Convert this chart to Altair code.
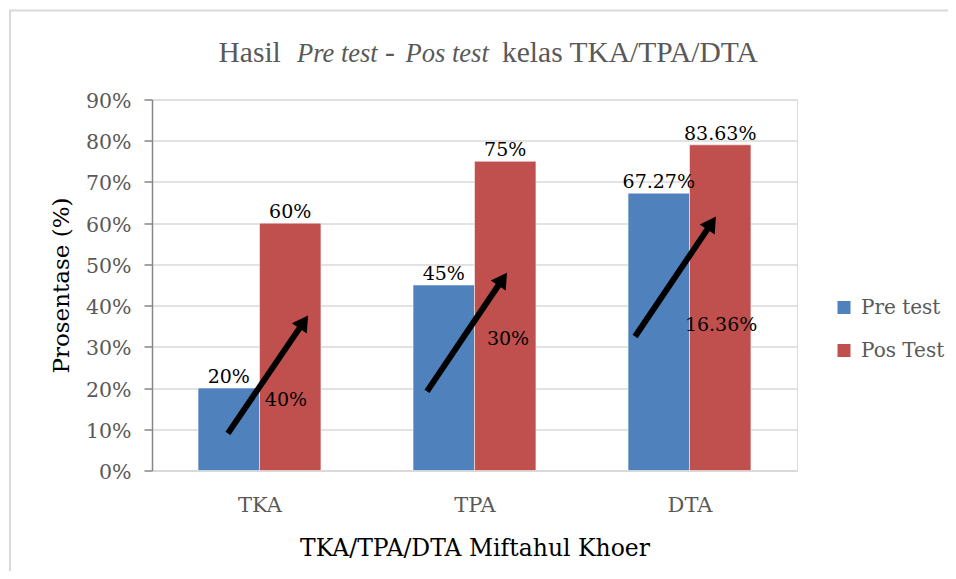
import json
import math
import altair as alt
import pandas as pd

# ---------------- data ----------------
categories = ["TKA", "TPA", "DTA"]
series_names = ["Pre test", "Pos Test"]
series_colors = ["#4F81BD", "#C0504D"]
pre_values = [20, 45, 67.27]
pos_values = [60, 75, 79]          # bar heights as drawn in the picture
pre_labels = ["20%", "45%", "67.27%"]
pos_labels = ["60%", "75%", "83.63%"]
diff_labels = ["40%", "30%", "16.36%"]
y_ticks = [0, 10, 20, 30, 40, 50, 60, 70, 80, 90]

# annotation arrows / difference labels (data units: x = category slot, y = %)
arrow_tail_x = [0.353, 1.279, 2.247]
arrow_tail_y = [9.0, 19.2, 32.5]
arrow_tip_x = [0.726, 1.651, 2.623]
arrow_tip_y = [37.6, 48.0, 61.6]
diff_x = [0.623, 1.656, 2.647]
diff_y = [17.2, 31.8, 35.4]

title_parts = ["Hasil", "Pre test", "-", "Pos test", "kelas TKA/TPA/DTA"]
title_italic = [False, True, False, True, False]
x_title = "TKA/TPA/DTA Miftahul Khoer"
y_title = "Prosentase (%)"

# ---------------- layout ----------------
FONT = "DejaVu Serif"
TFONT = "Liberation Serif"
W, H = 645, 371
XMAX, YMAX = 3, 90
PX_X = W / XMAX
PX_Y = H / YMAX
BAR_W = 1 / 3.5
GAP = 0.75 / 3.5

rows = []
for i, c in enumerate(categories):
    for s, (vals, labs) in enumerate([(pre_values, pre_labels), (pos_values, pos_labels)]):
        x0 = i + GAP + s * BAR_W
        rows.append(dict(cat=c, series=series_names[s], x0=x0, x1=x0 + BAR_W,
                         xc=x0 + BAR_W / 2, value=vals[i], label=labs[i]))
bars_df = pd.DataFrame(rows)

arrows = []
HEAD_W = 18
HEAD_H = HEAD_W * math.sqrt(3) / 2
for i in range(len(categories)):
    dxp = (arrow_tip_x[i] - arrow_tail_x[i]) * PX_X
    dyp = (arrow_tip_y[i] - arrow_tail_y[i]) * PX_Y
    L = math.hypot(dxp, dyp)
    ux, uy = dxp / L, dyp / L
    arrows.append(dict(
        x=arrow_tail_x[i], y=arrow_tail_y[i],
        x2=arrow_tip_x[i] - ux * (HEAD_H * 0.8) / PX_X,
        y2=arrow_tip_y[i] - uy * (HEAD_H * 0.8) / PX_Y,
        hx=arrow_tip_x[i] - ux * (HEAD_H / 2) / PX_X,
        hy=arrow_tip_y[i] - uy * (HEAD_H / 2) / PX_Y,
        angle=math.degrees(math.atan2(dxp, dyp)),
        dlx=diff_x[i], dly=diff_y[i], dlabel=diff_labels[i],
    ))
arrows_df = pd.DataFrame(arrows)

x_scale = alt.Scale(domain=[0, XMAX], nice=False, zero=False)
y_scale = alt.Scale(domain=[0, YMAX], nice=False)
label_expr = json.dumps(categories) + "[floor(datum.value)]"

x_axis = alt.Axis(values=[i + 0.5 for i in range(len(categories))], labelExpr=label_expr,
                  ticks=False, grid=False, domainColor="#D9D9D9", domainWidth=2,
                  labelFont=FONT, labelFontSize=21, labelColor="#595959", labelPadding=24,
                  titleFont=FONT, titleFontSize=23.5, titleColor="#000000",
                  titleFontWeight="normal", titlePadding=21)
y_axis = alt.Axis(values=y_ticks, labelExpr="datum.value + '%'", tickSize=8,
                  tickColor="#868686", tickWidth=1.5, domainColor="#868686", domainWidth=1.5,
                  grid=True, gridColor="#D9D9D9", gridWidth=1.5,
                  labelFont=FONT, labelFontSize=20.5, labelColor="#595959", labelPadding=13,
                  labelOffset=2,
                  titleFont=FONT, titleFontSize=23, titleColor="#000000",
                  titleFontWeight="normal", titleX=-91, titleY=H / 2, titleAngle=270,
                  titleAlign="center", titleBaseline="middle")

X = lambda f: alt.X(f, scale=x_scale, axis=x_axis, title=x_title)
Y = lambda f: alt.Y(f, scale=y_scale, axis=y_axis, title=y_title)

bars = alt.Chart(bars_df).mark_bar(stroke="#ffffff", strokeWidth=0.5).encode(
    x=X("x0:Q"), x2="x1:Q", y=Y("value:Q"), y2=alt.datum(0),
    color=alt.Color("series:N", scale=alt.Scale(domain=series_names, range=series_colors),
                    sort=series_names,
                    legend=alt.Legend(title=None, orient="none", legendX=682, legendY=198,
                                      symbolType="square", symbolSize=169, symbolStrokeWidth=0,
                                      labelFont=FONT, labelFontSize=20, labelColor="#595959",
                                      labelOffset=7, rowPadding=23, padding=0)),
)

value_text = alt.Chart(bars_df).mark_text(baseline="alphabetic", dy=-5, font=FONT,
                                          fontSize=19, color="#000000").encode(
    x=X("xc:Q"), y=Y("value:Q"), text="label:N")

shaft = alt.Chart(arrows_df).mark_rule(color="#000000", strokeWidth=6, strokeCap="butt").encode(
    x=X("x:Q"), y=Y("y:Q"), x2="x2:Q", y2="y2:Q")
head = alt.Chart(arrows_df).mark_point(shape="triangle-up", filled=True, color="#000000",
                                       opacity=1, size=HEAD_W ** 2, strokeWidth=0).encode(
    x=X("hx:Q"), y=Y("hy:Q"), angle=alt.Angle("angle:Q", scale=None))
diff_text = alt.Chart(arrows_df).mark_text(baseline="middle", align="center", font=FONT,
                                           fontSize=19, color="#000000").encode(
    x=X("dlx:Q"), y=Y("dly:Q"), text="dlabel:N")

# title pieces (page x of each piece start, converted to plot coords)
title_starts = [218.5, 297, 385, 405.6, 502]
one = pd.DataFrame({"k": [0]})
title_layers = []
for t, it, sx in zip(title_parts, title_italic, title_starts):
    title_layers.append(alt.Chart(one).mark_text(
        text=t, align="left", baseline="alphabetic", font=TFONT, fontSize=26.5 if it else 29.5,
        fontStyle="italic" if it else "normal", color="#595959").encode(
        x=alt.value(sx - 152), y=alt.value(61.5 - 99.5)))

border_top = alt.Chart(one).mark_rule(color="#D9D9D9", strokeWidth=2).encode(
    x=alt.value(-142.5), x2=alt.value(810), y=alt.value(-89))
border_left = alt.Chart(one).mark_rule(color="#D9D9D9", strokeWidth=2).encode(
    x=alt.value(-142), y=alt.value(-90), y2=alt.value(480))

chart = alt.layer(border_top, border_left, bars, value_text, shaft, head, diff_text,
                  *title_layers).properties(
    width=W, height=H,
    autosize=alt.AutoSizeParams(type="none"),
    padding={"left": 144, "top": 91.5, "right": 151, "bottom": 100},
).configure_view(stroke=None).configure(background="#ffffff")

chart.save("out.html", embed_options={"renderer": "svg", "actions": False})
